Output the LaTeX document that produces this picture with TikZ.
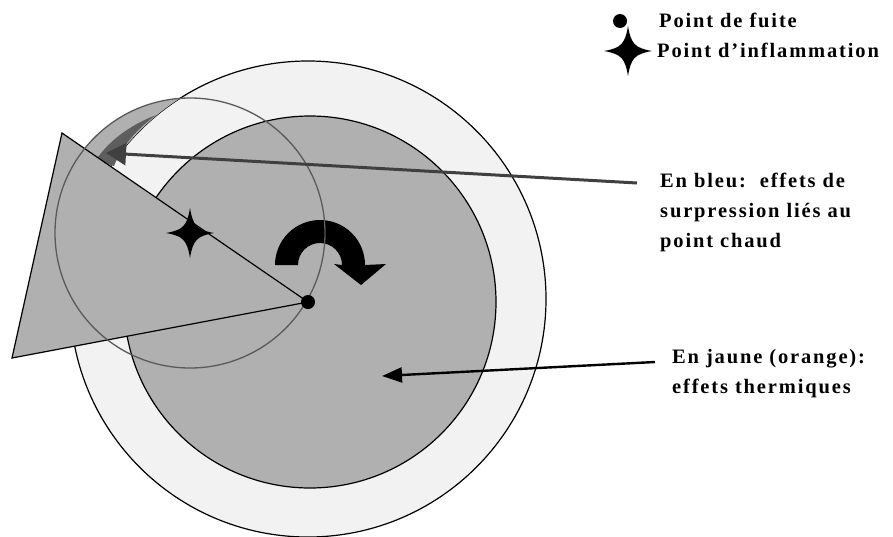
\documentclass[tikz,border=0pt]{standalone}
\usepackage{fontspec}
\setmainfont{Liberation Serif}
\newfontfamily\legendfont{Liberation Serif}[LetterSpace=9]
\usetikzlibrary{arrows.meta}
\definecolor{ringgray}{HTML}{F2F2F2}
\definecolor{zonegray}{HTML}{B0B0B0}
\definecolor{bluegray}{HTML}{5E5E5E}
\definecolor{arrowgray}{HTML}{404040}
\definecolor{circlegray}{HTML}{5A5A5A}
\tikzset{
  ring/.style={draw=black,line width=1.2pt,fill=ringgray},
  zone/.style={draw=black,line width=1.2pt,fill=zonegray},
  overpress/.style={draw=circlegray,line width=1.3pt},
  txt/.style={anchor=north west,inner sep=0pt,align=left,
    font=\legendfont\bfseries\fontsize{20.5}{30}\selectfont},
  pointer/.style={-{Triangle[length=20pt,width=22pt]},line width=3pt,draw=arrowgray},
  heat/.style={-{Triangle[length=20pt,width=15pt]},line width=2.4pt,draw=black},
  ignition/.pic={\fill (0,-25) .. controls (3,-7) and (7,-3) .. (24,0)
    .. controls (7,3) and (3,7) .. (0,25) .. controls (-3,7) and (-7,3) .. (-24,0)
    .. controls (-7,-3) and (-3,-7) .. cycle;}
}
\begin{document}
\begin{tikzpicture}[x=1pt,y=-1pt]
\useasboundingbox (0,0) rectangle (893,536);
\coordinate (ctr) at (308,299);
\coordinate (leakpt) at (308,302);
\coordinate (ign) at (190,233);
% zones
\filldraw[ring] (ctr) circle (238pt);
\filldraw[zone] (310,302) circle (186pt);
\begin{scope}
  \clip (ign) circle (135pt);
  \fill[zonegray,even odd rule] (0,0) rectangle (893,536) (ctr) circle (238pt);
\end{scope}
\fill[bluegray] (96,160) .. controls (108,142) and (128,126) .. (156,115)
  .. controls (136,130) and (122,146) .. (114,166) -- cycle;
\filldraw[zone] (62,133) -- (leakpt) -- (12,358) -- cycle;
% rotation
\fill[black] (275,265) arc[start angle=180,end angle=0,radius=45pt] -- (386,264)
  -- (361,285) -- (334,264) -- (342,265) arc[start angle=0,end angle=180,radius=22pt] -- cycle;
\draw[overpress] (ign) circle (135pt);
\node[circle,fill=black,inner sep=0pt,minimum size=14pt] (leak) at (leakpt) {};
\pic at (ign) {ignition};
% legend
\node[circle,fill=black,inner sep=0pt,minimum size=14pt] (dot) at (620,21) {};
\node[txt,anchor=base west] (fuite) at (659,27) {Point de fuite};
\pic at (628,51) {ignition};
\node[txt,anchor=base west] (inflam) at (657,57) {Point d’inflammation};
% effects
\node[txt] (bleu) at (660,173) {En bleu:\ \ effets de\\surpression liés au\\point chaud};
\node[txt] (jaune) at (672,349) {En jaune (orange):\\effets thermiques};
\coordinate (bleutail) at (637,183);
\coordinate (bleutip) at (106,153);
\coordinate (jaunetail) at (655,362);
\coordinate (jaunetip) at (382,376);
\draw[pointer] (bleutail) -- (bleutip);
\draw[heat] (jaunetail) -- (jaunetip);
\end{tikzpicture}
\end{document}
